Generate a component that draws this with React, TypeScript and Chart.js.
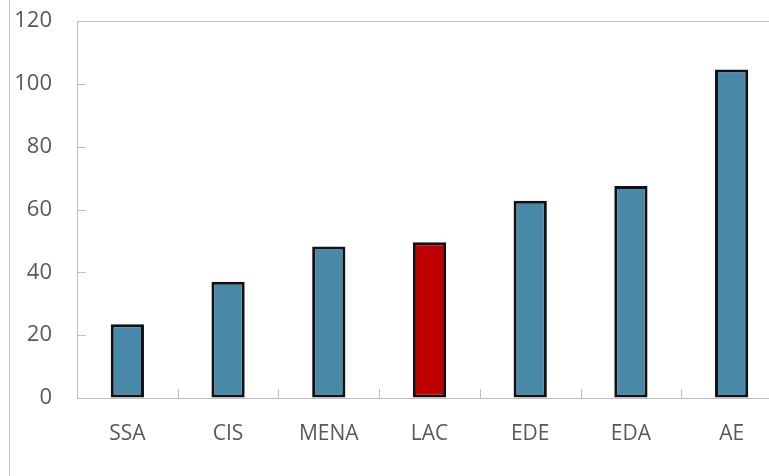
import React, { useEffect, useRef } from "react";
import { Chart, registerables } from "chart.js";

Chart.register(...registerables);

const categories = ["SSA", "CIS", "MENA", "LAC", "EDE", "EDA", "AE"];
const values = [23.5, 37.0, 48.2, 49.6, 62.8, 67.5, 104.6];
const highlight = "LAC";
const yMin = 0;
const yMax = 120;
const yStep = 20;

const BLUE = "rgb(72,137,170)";
const RED = "rgb(192,0,0)";
const AXIS = "#bfbfbf";
const TEXT = "#595959";
const FONT = "'Open Sans', 'Noto Sans', sans-serif";

const innerTicks = {
  id: "innerTicks",
  afterDatasetsDraw(chart: any) {
    const { ctx, chartArea, scales } = chart;
    const x = scales.x;
    const y = scales.y;
    ctx.save();
    ctx.strokeStyle = AXIS;
    ctx.lineWidth = 1;
    ctx.beginPath();
    const n = categories.length;
    for (let i = 1; i < n; i++) {
      const px = Math.round((x.getPixelForValue(i - 1) + x.getPixelForValue(i)) / 2) + 0.5;
      ctx.moveTo(px, chartArea.bottom);
      ctx.lineTo(px, chartArea.bottom - 9);
    }
    y.ticks.forEach((t: any) => {
      if (t.value >= yMax || t.value <= yMin) return;
      const py = Math.round(y.getPixelForValue(t.value)) + 0.5;
      ctx.moveTo(chartArea.left, py);
      ctx.lineTo(chartArea.left + 9, py);
    });
    ctx.stroke();
    ctx.restore();
  },
};

export default function App() {
  const ref = useRef<HTMLCanvasElement | null>(null);
  useEffect(() => {
    if (!ref.current) return;
    const chart = new Chart(ref.current, {
      type: "bar",
      data: {
        labels: categories,
        datasets: [
          {
            data: values,
            backgroundColor: categories.map((c) => (c === highlight ? RED : BLUE)),
            borderColor: "#111111",
            borderWidth: 3,
            borderSkipped: false,
            barPercentage: 0.33,
            categoryPercentage: 1,
          },
        ],
      },
      options: {
        animation: false,
        responsive: false,
        maintainAspectRatio: false,
        layout: { padding: { top: 21, right: 18, left: 0, bottom: 0 } },
        plugins: { legend: { display: false }, tooltip: { enabled: false } },
        scales: {
          x: {
            grid: { display: false, drawTicks: false },
            border: { display: true, color: AXIS, width: 1 },
            ticks: { color: TEXT, font: { family: FONT, size: 21 }, padding: 23, maxRotation: 0 },
            afterFit: (s: any) => {
              s.height = 78;
              s.paddingLeft = 0;
              s.paddingRight = 0;
            },
          },
          y: {
            min: yMin,
            max: yMax,
            grid: {
              drawTicks: false,
              color: (c: any) => (c.tick && c.tick.value === yMax ? AXIS : "rgba(0,0,0,0)"),
            },
            border: { display: true, color: AXIS, width: 1 },
            ticks: { stepSize: yStep, color: TEXT, font: { family: FONT, size: 22 }, padding: 25 },
            afterFit: (s: any) => {
              s.width = 77;
              s.paddingTop = 0;
              s.paddingBottom = 0;
            },
          },
        },
      },
      plugins: [innerTicks],
    });
    return () => chart.destroy();
  }, []);
  return (
    <div
      style={{
        position: "fixed",
        left: 0,
        top: 0,
        width: 769,
        height: 476,
        overflow: "hidden",
        background: "#fff",
      }}
    >
      <div style={{ position: "absolute", left: 9, top: 0, width: 1, height: 476, background: "#c8c8c8" }} />
      <canvas ref={ref} width={800} height={476} style={{ position: "absolute", left: 0, top: 0 }} />
    </div>
  );
}
